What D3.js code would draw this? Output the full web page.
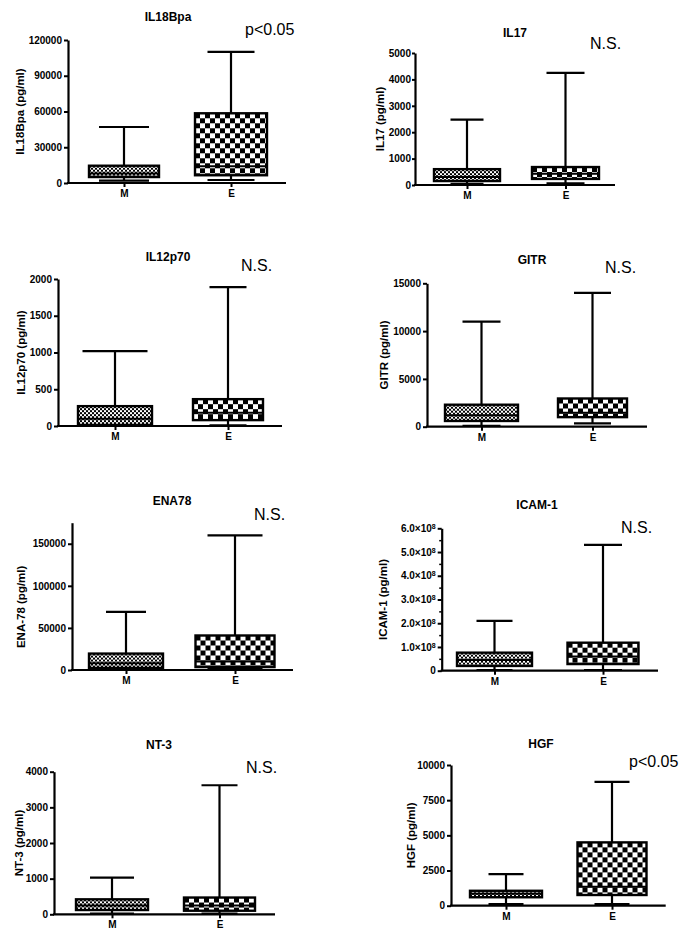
<!DOCTYPE html>
<html><head><meta charset="utf-8">
<script src="https://cdn.jsdelivr.net/npm/d3@7"></script>
<style>
html,body{margin:0;padding:0;background:#fff;}
svg text{font-family:"Liberation Sans",Arial,sans-serif;}
</style></head>
<body>
<svg id="c" width="691" height="941"></svg>
<script>
// ---- data ----
const titles = ["IL18Bpa","IL17","IL12p70","GITR","ENA78","ICAM-1","NT-3","HGF"];
const yLabels = ["IL18Bpa (pg/ml)","IL17 (pg/ml)","IL12p70 (pg/ml)","GITR (pg/ml)","ENA-78 (pg/ml)","ICAM-1 (pg/ml)","NT-3 (pg/ml)","HGF (pg/ml)"];
const sigLabels = ["p<0.05","N.S.","N.S.","N.S.","N.S.","N.S.","N.S.","p<0.05"];
const groups = ["M","E"];
const yMax = [120000,5000,2000,15000,175000,6e8,4000,10000];
const yTicks = [
  [0,30000,60000,90000,120000],
  [0,1000,2000,3000,4000,5000],
  [0,500,1000,1500,2000],
  [0,5000,10000,15000],
  [0,50000,100000,150000],
  [0,1e8,2e8,3e8,4e8,5e8,6e8],
  [0,1000,2000,3000,4000],
  [0,2500,5000,7500,10000]
];
const icamTickMantissa = ["0","1.0×10","2.0×10","3.0×10","4.0×10","5.0×10","6.0×10"];
const icamExponent = "8";
const icamMinorTicks = [0.5e8,1.5e8,2.5e8,3.5e8,4.5e8,5.5e8];
// box stats: [min, Q1, median, Q3, max]
const mStats = [
  [2000,5000,8000,14500,47000],
  [40,150,300,600,2480],
  [5,15,100,270,1020],
  [100,600,1200,2300,11000],
  [500,2500,8000,19500,69000],
  [3e6,2e7,4.5e7,7.6e7,2.1e8],
  [20,120,250,420,1030],
  [120,600,850,1060,2250]
];
const eStats = [
  [2500,6500,14000,58500,110000],
  [60,230,430,680,4250],
  [10,80,180,365,1890],
  [350,1000,1450,2950,14000],
  [1000,3500,10000,41000,160000],
  [3e6,2.8e7,6e7,1.18e8,5.3e8],
  [20,100,250,470,3620],
  [120,760,1350,4500,8800]
];

// ---- layout (positions only) ----
const layout = [
  {ax:68, yTop:40, y0:183, xr:286, mc:124, ec:231, mw:70, ew:72, mcap:50, ecap:47, tx:168, ty:17, sx:245, sy:29, lx:19.5, ts:4, tp:2},
  {ax:415, yTop:53, y0:185, xr:615, mc:467, ec:565.5, mw:66, ew:67, mcap:33, ecap:38, tx:515, ty:33, sx:590, sy:43, lx:380, ts:3, tp:1},
  {ax:58, yTop:279, y0:426, xr:282, mc:115, ec:228, mw:74, ew:70, mcap:65, ecap:37, tx:168, ty:257, sx:241, sy:265, lx:21, ts:4, tp:2},
  {ax:427, yTop:283.3, y0:426.7, xr:647, mc:481.5, ec:592.5, mw:73, ew:69, mcap:38, ecap:37, tx:532, ty:260, sx:605, sy:267, lx:384, ts:4, tp:2},
  {ax:72, yTop:522.7, y0:670, xr:293, mc:126, ec:235, mw:74, ew:79, mcap:40, ecap:55, tx:172, ty:500.7, sx:254, sy:514, lx:21, ts:4, tp:2},
  {ax:441.7, yTop:528.3, y0:670.7, xr:658, mc:494.5, ec:603, mw:75, ew:71, mcap:36, ecap:38, tx:537, ty:505, sx:621, sy:527, lx:383, ts:4, tp:2},
  {ax:54, yTop:771.7, y0:914.3, xr:275, mc:112, ec:219.5, mw:72, ew:71, mcap:44, ecap:36, tx:159, ty:745, sx:246, sy:767, lx:18.5, ts:4, tp:2},
  {ax:451, yTop:765, y0:905.7, xr:665.7, mc:506, ec:612, mw:72, ew:69, mcap:35, ecap:35, tx:541, ty:744, sx:629, sy:761, lx:411, ts:4, tp:2}
];

const svg = d3.select("#c");
const defs = svg.append("defs");
let pid = 0;
function makePattern(x, y, cell){
  const id = "pat" + (pid++);
  const p = defs.append("pattern").attr("id", id).attr("patternUnits","userSpaceOnUse")
    .attr("x", x).attr("y", y).attr("width", cell*2).attr("height", cell*2);
  p.append("rect").attr("width", cell*2).attr("height", cell*2).attr("fill","#fff");
  p.append("rect").attr("width", cell).attr("height", cell).attr("fill","#000");
  p.append("rect").attr("x", cell).attr("y", cell).attr("width", cell).attr("height", cell).attr("fill","#000");
  return "url(#" + id + ")";
}

titles.forEach((t, i) => {
  const L = layout[i];
  const g = svg.append("g");
  const y = d3.scaleLinear().domain([0, yMax[i]]).range([L.y0, L.yTop]);
  const x = d3.scalePoint().domain(groups).range([L.mc, L.ec]);

  // y axis
  const yAxis = d3.axisLeft(y).tickValues(yTicks[i]).tickSize(L.ts).tickSizeOuter(0).tickPadding(L.tp)
    .tickFormat(d => i === 5 ? "" : d3.format("d")(d));
  const ya = g.append("g").attr("transform", `translate(${L.ax},0)`).call(yAxis);
  ya.select(".domain").attr("stroke-width", 2.2);
  ya.selectAll(".tick line").attr("stroke-width", 2);
  ya.selectAll(".tick text").attr("font-size", 10).attr("font-weight","bold").attr("fill","#000");
  if (i === 5) {
    ya.selectAll(".tick text").each(function(d, k){
      const tx = d3.select(this);
      tx.text(null);
      tx.append("tspan").text(icamTickMantissa[k]);
      if (k > 0) tx.append("tspan").attr("font-size", 7).attr("dy", "-0.45em").text(icamExponent);
    });
    const mi = g.append("g").attr("transform", `translate(${L.ax},0)`)
      .call(d3.axisLeft(y).tickValues(icamMinorTicks).tickSize(2.5).tickFormat(""));
    mi.select(".domain").remove();
    mi.selectAll(".tick line").attr("stroke-width", 1.5);
  }
  // x axis
  g.append("line").attr("x1", L.ax - 1).attr("x2", L.xr).attr("y1", L.y0).attr("y2", L.y0)
    .attr("stroke","#000").attr("stroke-width", 2.2);
  const xa = g.append("g").attr("transform", `translate(0,${L.y0})`)
    .call(d3.axisBottom(x).tickSize(4).tickSizeOuter(0).tickPadding(3));
  xa.select(".domain").remove();
  xa.selectAll(".tick line").attr("stroke-width", 2);
  xa.selectAll(".tick text").attr("font-size", 10).attr("font-weight","bold").attr("fill","#000");

  // boxes
  groups.forEach((grp, j) => {
    const s = j === 0 ? mStats[i] : eStats[i];
    const cx = x(grp);
    const w = j === 0 ? L.mw : L.ew;
    const cap = j === 0 ? L.mcap : L.ecap;
    const cell = j === 0 ? 2 : 5;
    const bx = cx - w/2, by = y(s[3]), bh = y(s[1]) - y(s[3]);
    g.append("line").attr("x1", cx).attr("x2", cx).attr("y1", y(s[4])).attr("y2", y(s[0]))
      .attr("stroke","#000").attr("stroke-width", 2.2);
    [s[0], s[4]].forEach(v => {
      g.append("line").attr("x1", cx - cap/2).attr("x2", cx + cap/2).attr("y1", y(v)).attr("y2", y(v))
        .attr("stroke","#000").attr("stroke-width", 2.2);
    });
    g.append("rect").attr("x", bx).attr("y", by).attr("width", w).attr("height", bh)
      .attr("fill", makePattern(bx, by, cell)).attr("stroke","#000").attr("stroke-width", 2.4);
    g.append("line").attr("x1", bx).attr("x2", bx + w).attr("y1", y(s[2])).attr("y2", y(s[2]))
      .attr("stroke","#000").attr("stroke-width", 2);
  });

  // texts
  g.append("text").attr("x", L.tx).attr("y", L.ty).attr("text-anchor","middle").attr("dominant-baseline","central")
    .attr("font-size", 12).attr("font-weight","bold").text(t);
  g.append("text").attr("x", L.sx).attr("y", L.sy).attr("dominant-baseline","central")
    .attr("font-size", 16).text(sigLabels[i]);
  const cy = (L.y0 + y(yTicks[i][yTicks[i].length-1])) / 2;
  g.append("text").attr("transform", `translate(${L.lx},${cy}) rotate(-90)`).attr("text-anchor","middle")
    .attr("dominant-baseline","central").attr("font-size", 11.5).attr("font-weight","bold").text(yLabels[i]);
});
</script>
</body></html>
